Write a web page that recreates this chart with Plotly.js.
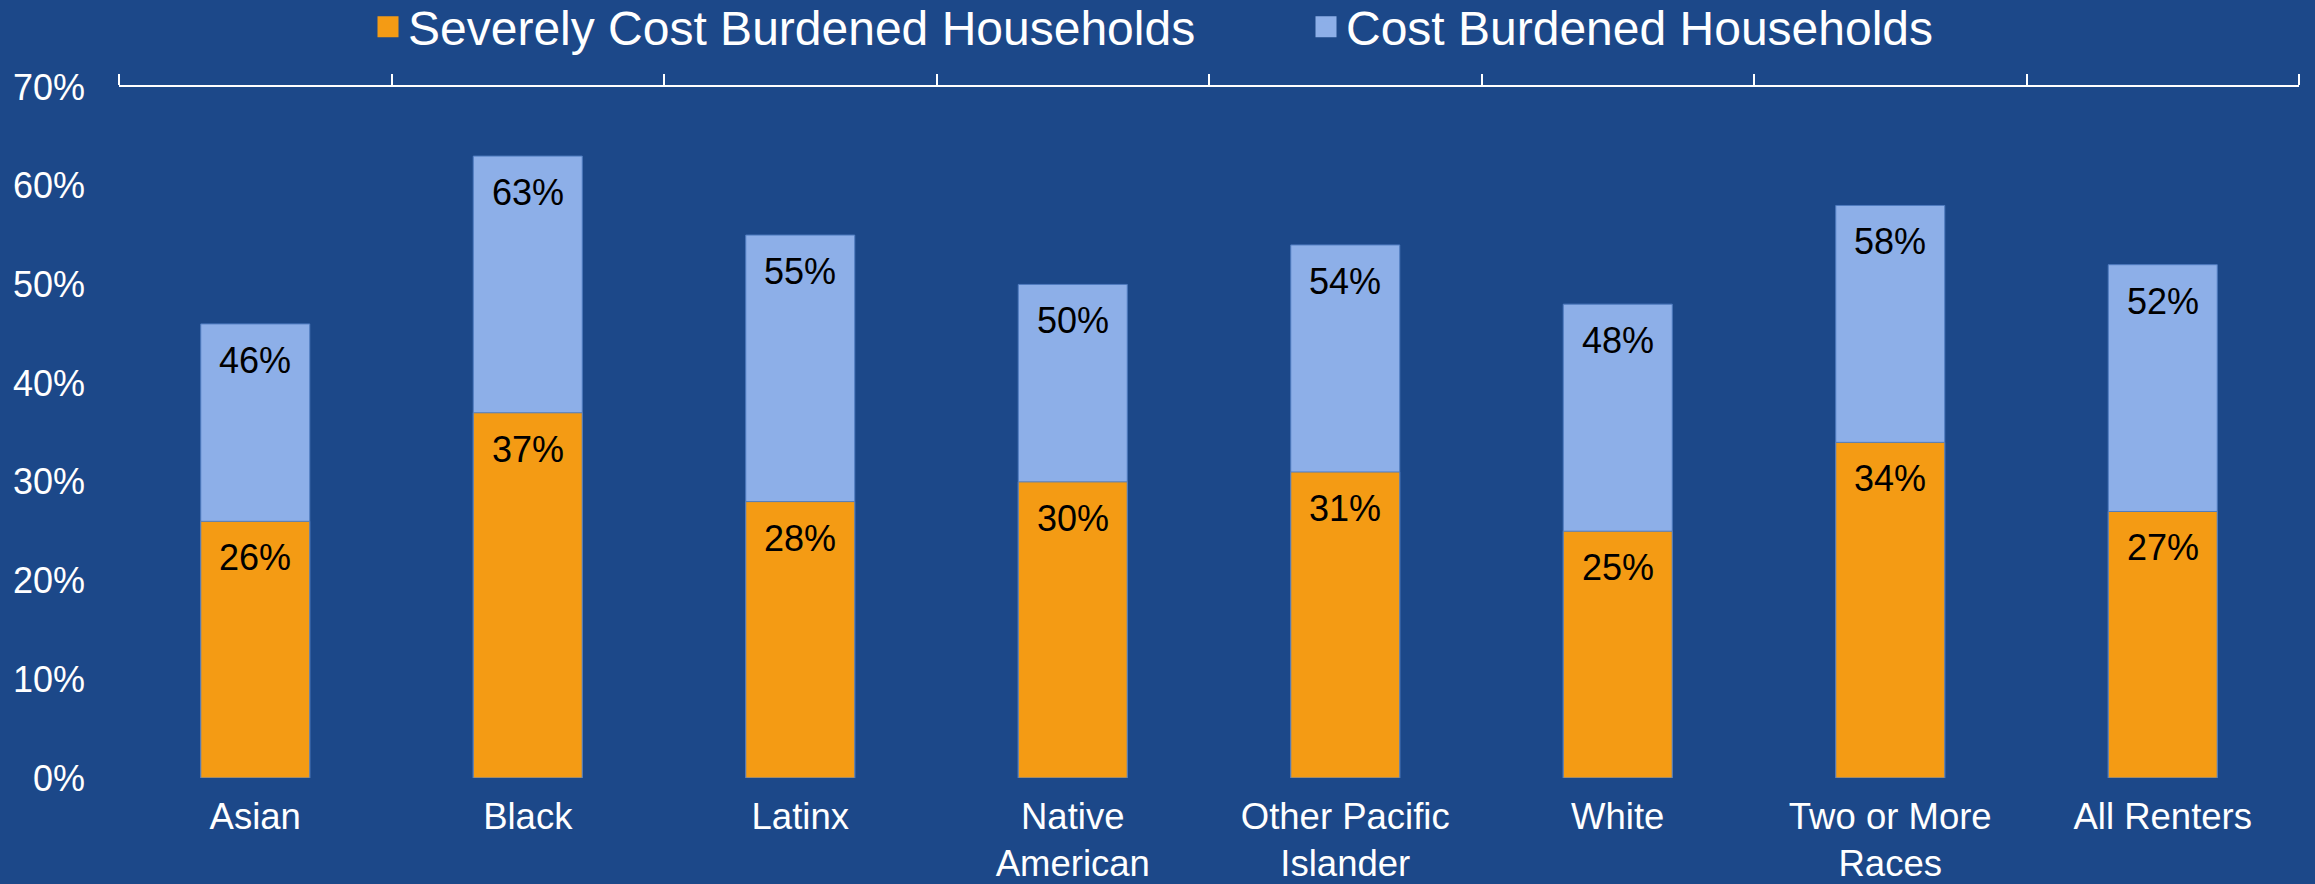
<!DOCTYPE html>
<html>
<head>
<meta charset="utf-8">
<script src="https://cdn.plot.ly/plotly-3.0.1.min.js"></script>
<style>
  html, body { margin: 0; padding: 0; background: #1C4889; }
  #chart { width: 2315px; height: 884px; }
</style>
</head>
<body>
<div id="chart"></div>
<script>
// ---- Data ----
const categories = ["Asian", "Black", "Latinx", "Native American", "Other Pacific Islander", "White", "Two or More Races", "All Renters"];
const tickLabels = ["Asian", "Black", "Latinx", "Native<br>American", "Other Pacific<br>Islander", "White", "Two or More<br>Races", "All Renters"];
const severelyCostBurdened = [26, 37, 28, 30, 31, 25, 34, 27];
const costBurdened = [46, 63, 55, 50, 54, 48, 58, 52];
const yTickValues = [0, 10, 20, 30, 40, 50, 60, 70];
const seriesNames = ["Severely Cost Burdened Households", "Cost Burdened Households"];

// ---- Style ----
const BG = "#1C4889";
const ORANGE = "#F49B14";
const BLUE = "#8DAFE8";
const EDGE = "#4F7CC0";
const FONT = 'Arial, "Liberation Sans", sans-serif';

const catIndex = categories.map((_, i) => i);
const boundaries = catIndex.map(i => i - 0.5).concat([categories.length - 0.5]);
const xRange = [-0.5, categories.length - 0.5];

const traces = [
  {
    type: "bar", x: categories, y: costBurdened, name: seriesNames[1],
    width: 0.4, showlegend: false,
    marker: { color: BLUE, line: { color: EDGE, width: 1 } },
    hovertemplate: "%{x}: %{y}%<extra></extra>"
  },
  {
    type: "bar", x: categories, y: severelyCostBurdened, name: seriesNames[0],
    width: 0.4, showlegend: false,
    marker: { color: ORANGE, line: { color: EDGE, width: 1 } },
    hovertemplate: "%{x}: %{y}%<extra></extra>"
  },
  // legend-only entries (no visible points)
  {
    type: "scatter", mode: "markers", x: [null], y: [null], xaxis: "x2", yaxis: "y",
    name: seriesNames[0], legendwidth: 893, hoverinfo: "skip",
    marker: { symbol: "square", size: 16, color: ORANGE, line: { color: ORANGE, width: 5 } }
  },
  {
    type: "scatter", mode: "markers", x: [null], y: [null], xaxis: "x2", yaxis: "y",
    name: seriesNames[1], hoverinfo: "skip",
    marker: { symbol: "square", size: 16, color: BLUE, line: { color: BLUE, width: 5 } }
  }
];

function labelAnnotations(values) {
  return categories.map((c, i) => ({
    x: c, y: values[i], xref: "x", yref: "y",
    text: values[i] + "%", showarrow: false,
    yanchor: "top", yshift: -14,
    font: { family: FONT, size: 36, color: "#000000" }
  }));
}

const layout = {
  width: 2315, height: 884,
  paper_bgcolor: BG, plot_bgcolor: BG,
  margin: { l: 119, r: 16, t: 87, b: 106, pad: 0 },
  barmode: "overlay",
  font: { family: FONT, color: "#FFFFFF" },
  xaxis: {
    type: "category", range: xRange,
    tickvals: categories, ticktext: tickLabels,
    showline: false, showgrid: false, zeroline: false, ticks: "",
    tickfont: { family: FONT, size: 36.5, color: "#FFFFFF" },
    ticklabelstandoff: 13, fixedrange: true
  },
  xaxis2: {
    type: "linear", overlaying: "x", side: "top", anchor: "y", range: xRange,
    showline: true, linecolor: "#FFFFFF", linewidth: 2,
    ticks: "outside", ticklen: 11, tickwidth: 2, tickcolor: "#FFFFFF",
    tickvals: boundaries, showticklabels: false,
    showgrid: false, zeroline: false, fixedrange: true
  },
  yaxis: {
    range: [0, 70], tickvals: yTickValues, ticktext: yTickValues.map(v => v + "%"),
    showline: false, showgrid: false, zeroline: false, ticks: "",
    tickfont: { family: FONT, size: 36, color: "#FFFFFF" },
    ticklabelstandoff: 33, fixedrange: true
  },
  legend: {
    orientation: "h", xref: "container", yref: "container",
    x: 368 / 2315, y: 1 - 27 / 884, xanchor: "left", yanchor: "middle",
    font: { family: FONT, size: 48, color: "#FFFFFF" },
    bgcolor: "rgba(0,0,0,0)", itemclick: false, itemdoubleclick: false
  },
  annotations: labelAnnotations(costBurdened).concat(labelAnnotations(severelyCostBurdened)),
  showlegend: true
};

Plotly.newPlot("chart", traces, layout, { displayModeBar: false });
</script>
</body>
</html>
